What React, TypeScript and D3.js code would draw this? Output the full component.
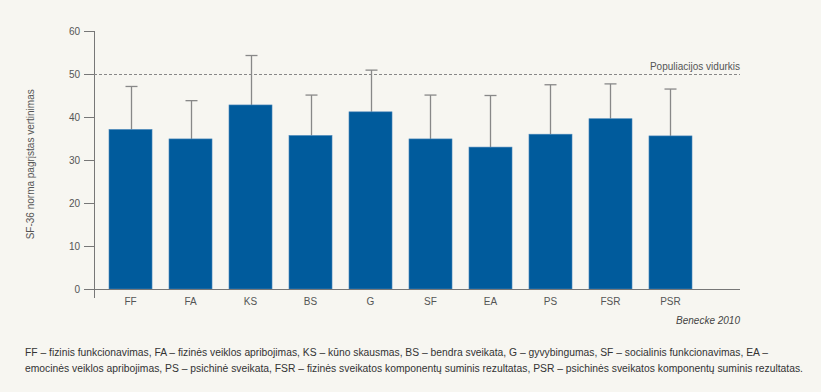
import React, { useRef, useEffect } from 'react';
import * as d3 from 'd3';

const categories = ['FF', 'FA', 'KS', 'BS', 'G', 'SF', 'EA', 'PS', 'FSR', 'PSR'];
const means = [37.1, 34.9, 42.8, 35.7, 41.2, 34.9, 33.0, 36.0, 39.6, 35.6];
const upperErr = [47.1, 43.8, 54.3, 45.1, 50.9, 45.1, 45.0, 47.5, 47.7, 46.5];
const yTicks = [0, 10, 20, 30, 40, 50, 60];
const populationMean = 50;
const footnote = [
  'FF – fizinis funkcionavimas, FA – fizinės veiklos apribojimas, KS – kūno skausmas, BS – bendra sveikata, G – gyvybingumas, SF – socialinis funkcionavimas, EA –',
  'emocinės veiklos apribojimas, PS – psichinė sveikata, FSR – fizinės sveikatos komponentų suminis rezultatas, PSR – psichinės sveikatos komponentų suminis rezultatas.',
];
const footnoteWidths = [743, 778];

const App = () => {
  const svgRef = useRef(null);

  useEffect(() => {
    const width = 821;
    const height = 392;
    const axisX = 94;
    const axisRight = 740;
    const font = 'Liberation Sans, Arial, sans-serif';

    const svg = d3.select(svgRef.current)
      .attr('width', width)
      .attr('height', height);
    svg.selectAll('*').remove();

    svg.append('rect')
      .attr('width', width)
      .attr('height', height)
      .attr('fill', '#f7f6f1');

    const yScale = d3.scaleLinear()
      .domain([0, 60])
      .range([289, 31]);

    const xScale = d3.scaleBand()
      .domain(categories)
      .range([100, 701])
      .paddingInner(0.283)
      .paddingOuter(0.15);

    // y axis
    const yAxis = svg.append('g')
      .attr('transform', `translate(${axisX}, 0)`)
      .call(d3.axisLeft(yScale).tickValues(yTicks).tickSize(10).tickPadding(4));
    yAxis.select('.domain').remove();
    yAxis.selectAll('.tick line').attr('stroke', '#777');
    yAxis.selectAll('.tick text')
      .attr('fill', '#555')
      .style('font-family', font)
      .style('font-size', '10px');
    svg.append('line')
      .attr('x1', axisX + 0.5).attr('x2', axisX + 0.5)
      .attr('y1', 31).attr('y2', 298)
      .attr('stroke', '#777');

    svg.append('text')
      .attr('transform', `translate(34, ${yScale(29)}) rotate(-90)`)
      .attr('text-anchor', 'middle')
      .attr('fill', '#555')
      .style('font-family', font)
      .style('font-size', '10px')
      .text('SF-36 norma pagrįstas vertinimas');

    // population mean
    svg.append('line')
      .attr('x1', axisX).attr('x2', axisRight)
      .attr('y1', yScale(populationMean) + 0.5).attr('y2', yScale(populationMean) + 0.5)
      .attr('stroke', '#888')
      .attr('stroke-dasharray', '3,2');
    svg.append('text')
      .attr('x', axisRight)
      .attr('y', yScale(populationMean) - 4)
      .attr('text-anchor', 'end')
      .attr('fill', '#555')
      .style('font-family', font)
      .style('font-size', '10px')
      .text('Populiacijos vidurkis');

    // error bars
    const err = svg.append('g');
    categories.forEach((c, i) => {
      const cx = Math.round(xScale(c) + xScale.bandwidth() / 2) + 0.5;
      err.append('line')
        .attr('x1', cx).attr('x2', cx)
        .attr('y1', yScale(means[i])).attr('y2', yScale(upperErr[i]))
        .attr('stroke', '#888').attr('stroke-width', 1.3);
      err.append('line')
        .attr('x1', cx - 6).attr('x2', cx + 6)
        .attr('y1', yScale(upperErr[i])).attr('y2', yScale(upperErr[i]))
        .attr('stroke', '#888').attr('stroke-width', 1.3);
    });

    // bars
    svg.selectAll('.bar')
      .data(categories)
      .enter().append('rect')
      .attr('class', 'bar')
      .attr('x', d => xScale(d))
      .attr('y', (d, i) => yScale(means[i]))
      .attr('width', xScale.bandwidth())
      .attr('height', (d, i) => yScale(0) - yScale(means[i]))
      .attr('fill', '#005b9c')
      .attr('stroke', '#4a86ba')
      .attr('stroke-width', 0.6);

    // x axis baseline
    svg.append('line')
      .attr('x1', axisX).attr('x2', axisRight)
      .attr('y1', yScale(0) + 0.5).attr('y2', yScale(0) + 0.5)
      .attr('stroke', '#777');

    svg.selectAll('.xlabel')
      .data(categories)
      .enter().append('text')
      .attr('class', 'xlabel')
      .attr('x', d => xScale(d) + xScale.bandwidth() / 2)
      .attr('y', 305)
      .attr('text-anchor', 'middle')
      .attr('fill', '#555')
      .style('font-family', font)
      .style('font-size', '10px')
      .text(d => d);

    svg.append('text')
      .attr('x', axisRight)
      .attr('y', 324)
      .attr('text-anchor', 'end')
      .attr('fill', '#444')
      .style('font-family', font)
      .style('font-size', '10px')
      .style('font-style', 'italic')
      .text('Benecke 2010');

    svg.selectAll('.foot')
      .data(footnote)
      .enter().append('text')
      .attr('class', 'foot')
      .attr('x', 25)
      .attr('y', (d, i) => 355.5 + i * 16.5)
      .attr('fill', '#333')
      .attr('textLength', (d, i) => footnoteWidths[i])
      .attr('lengthAdjust', 'spacingAndGlyphs')
      .style('font-family', font)
      .style('font-size', '10px')
      .text(d => d);
  }, []);

  return <svg ref={svgRef} style={{ position: 'absolute', left: 0, top: 0 }}></svg>;
};

export default App;
